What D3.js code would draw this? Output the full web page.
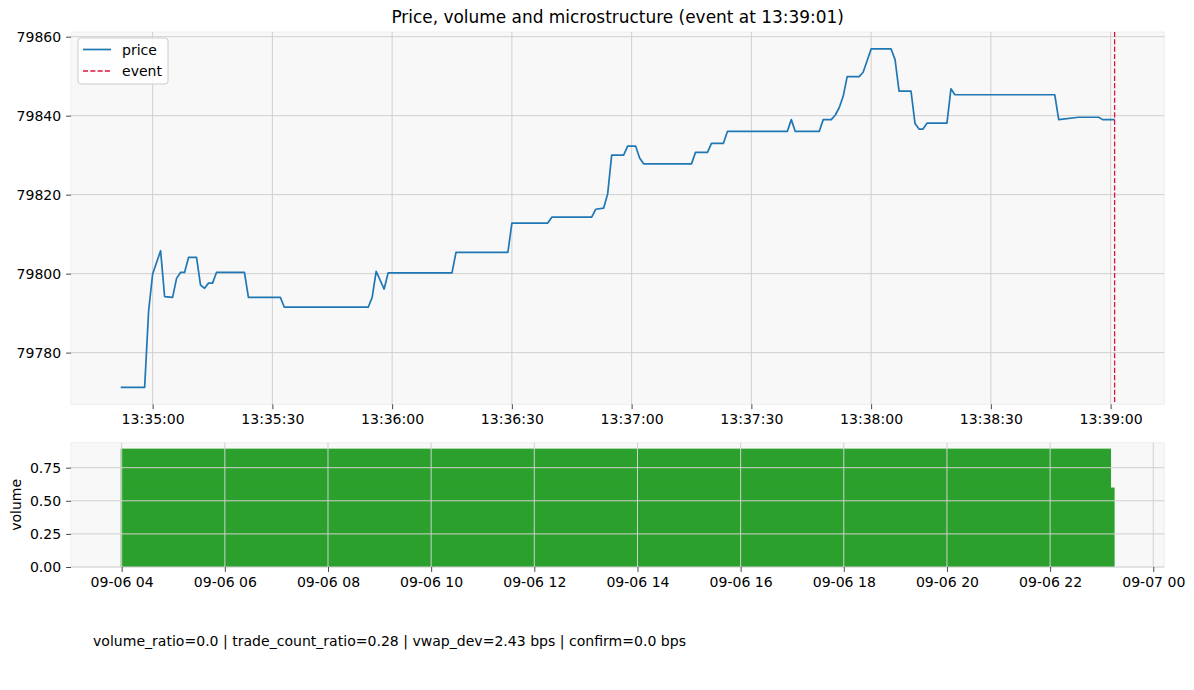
<!DOCTYPE html>
<html>
<head>
<meta charset="utf-8">
<script src="https://cdn.jsdelivr.net/npm/d3@7"></script>
<style>
  body { margin: 0; background: #fff; }
  text { font-family: "DejaVu Sans", sans-serif; fill: #000; }
</style>
</head>
<body>
<svg id="chart" width="1194" height="690"></svg>
<script>
// price samples (time of day, price)
const day = "2025-09-06";
const priceTimes = ["13:34:52","13:34:58","13:34:59","13:35:00","13:35:02","13:35:03","13:35:05","13:35:06","13:35:07","13:35:08",
  "13:35:09","13:35:11","13:35:12","13:35:13","13:35:14","13:35:15","13:35:16","13:35:23","13:35:24","13:35:32",
  "13:35:33","13:35:54","13:35:55","13:35:56","13:35:58","13:35:59","13:36:15","13:36:16","13:36:29","13:36:30",
  "13:36:39","13:36:40","13:36:50","13:36:51","13:36:53","13:36:54","13:36:55","13:36:58","13:36:59","13:37:01",
  "13:37:02","13:37:03","13:37:15","13:37:16","13:37:19","13:37:20","13:37:23","13:37:24","13:37:39","13:37:40",
  "13:37:41","13:37:47","13:37:48","13:37:50","13:37:51","13:37:52","13:37:53","13:37:54","13:37:57","13:37:58",
  "13:38:00","13:38:05","13:38:06","13:38:07","13:38:10","13:38:11","13:38:12","13:38:13","13:38:14","13:38:19",
  "13:38:20","13:38:21","13:38:46","13:38:47","13:38:52","13:38:57","13:38:58","13:39:01"];
const prices = [79771.2,79771.2,79790.6,79799.9,79805.8,79794.2,79794.0,79798.8,79800.3,79800.3,
  79804.1,79804.1,79797.1,79796.3,79797.6,79797.6,79800.3,79800.3,79794.0,79794.0,
  79791.5,79791.5,79794.0,79800.6,79796.1,79800.2,79800.2,79805.4,79805.4,79812.8,
  79812.8,79814.3,79814.3,79816.3,79816.6,79820.2,79830.0,79830.0,79832.3,79832.3,
  79829.3,79827.8,79827.8,79830.7,79830.7,79833.0,79833.0,79836.0,79836.0,79839.0,
  79836.0,79836.0,79839.0,79839.0,79840.1,79842.0,79844.9,79849.9,79849.9,79851.0,
  79856.9,79856.9,79854.2,79846.2,79846.2,79838.0,79836.6,79836.6,79838.1,79838.1,
  79846.8,79845.3,79845.3,79839.0,79839.6,79839.6,79839.0,79839.0];
const eventTime = "13:39:01";

// volume bars (drawn with a 0.8 day width, so they all overlap)
const volTimes = ["13:34:52","13:39:01"];
const volumes = [0.894,0.6];
const barWidthDays = 0.8;

const priceTicks = [79780,79800,79820,79840,79860];
const volTicks = [0,0.25,0.5,0.75];
const footer = "volume_ratio=0.0 | trade_count_ratio=0.28 | vwap_dev=2.43 bps | confirm=0.0 bps";
const title = "Price, volume and microstructure (event at 13:39:01)";

const parse = d3.timeParse("%Y-%m-%d %H:%M:%S");
const price = priceTimes.map((t,i) => ({t: parse(day+" "+t), p: prices[i]}));
const vol = volTimes.map((t,i) => ({t: parse(day+" "+t), v: volumes[i]}));
const evt = parse(day+" "+eventTime);

const svg = d3.select("#chart");
const BG = "#f8f8f8", GRID = "#d0d0d0", FS = 14.05;

function pad(ext, f) { const r = ext[1]-ext[0]; return [ext[0]-r*f, ext[1]+r*f]; }

// ---------- top panel ----------
const pp = {l: 71, r: 1164.3, t: 32, b: 404.3};
const tExt = d3.extent(price, d => +d.t);
const x = d3.scaleTime().domain(pad(tExt,0.05).map(v => new Date(v))).range([pp.l, pp.r]);
const y = d3.scaleLinear().domain(pad(d3.extent(price, d => d.p),0.05)).range([pp.b, pp.t]);

svg.append("rect").attr("x",pp.l).attr("y",pp.t).attr("width",pp.r-pp.l).attr("height",pp.b-pp.t)
  .attr("fill",BG).attr("stroke","#ececec").attr("stroke-width",0.8);

const xTicks = x.ticks(d3.timeSecond.every(30));
svg.append("g").selectAll("line").data(xTicks).join("line")
  .attr("x1",d=>x(d)).attr("x2",d=>x(d)).attr("y1",pp.t).attr("y2",pp.b)
  .attr("stroke",GRID).attr("stroke-width",1);
svg.append("g").selectAll("line").data(priceTicks).join("line")
  .attr("x1",pp.l).attr("x2",pp.r).attr("y1",d=>y(d)).attr("y2",d=>y(d))
  .attr("stroke",GRID).attr("stroke-width",1);

const gx = svg.append("g").attr("transform",`translate(0,${pp.b})`)
  .call(d3.axisBottom(x).tickValues(xTicks).tickFormat(d3.timeFormat("%H:%M:%S")).tickSize(4.9).tickPadding(4.9));
const gy = svg.append("g").attr("transform",`translate(${pp.l},0)`)
  .call(d3.axisLeft(y).tickValues(priceTicks).tickFormat(d3.format("d")).tickSize(4.9).tickPadding(4.9));

svg.append("path").datum(price)
  .attr("fill","none").attr("stroke","#1f77b4").attr("stroke-width",1.7).attr("stroke-linejoin","round")
  .attr("d", d3.line().x(d=>x(d.t)).y(d=>y(d.p)));

svg.append("line").attr("x1",x(evt)).attr("x2",x(evt)).attr("y1",pp.t).attr("y2",pp.b)
  .attr("stroke","#dc143c").attr("stroke-width",1.3).attr("stroke-dasharray","5.1,2.2");

// legend
const lg = svg.append("g").attr("transform","translate(78,38)");
lg.append("rect").attr("width",90).attr("height",46).attr("rx",3)
  .attr("fill","#fff").attr("fill-opacity",0.8).attr("stroke","#cccccc").attr("stroke-width",1);
lg.append("line").attr("x1",5).attr("x2",33).attr("y1",11.5).attr("y2",11.5).attr("stroke","#1f77b4").attr("stroke-width",1.7);
lg.append("line").attr("x1",5).attr("x2",33).attr("y1",33).attr("y2",33).attr("stroke","#dc143c").attr("stroke-width",1.3).attr("stroke-dasharray","5.1,2.2");
lg.append("text").attr("x",44).attr("y",16.5).style("font-size",FS+"px").text("price");
lg.append("text").attr("x",44).attr("y",38).style("font-size",FS+"px").text("event");

svg.append("text").attr("x",(pp.l+pp.r)/2).attr("y",23).attr("text-anchor","middle")
  .style("font-size","16.95px").text(title);

// ---------- bottom panel ----------
const vp = {l: 71, r: 1164.3, t: 442.7, b: 567};
const halfW = barWidthDays*24*3600*1000/2;
const bExt = [d3.min(vol, d => +d.t) - halfW, d3.max(vol, d => +d.t) + halfW];
const x2 = d3.scaleTime().domain(pad(bExt,0.05).map(v => new Date(v))).range([vp.l, vp.r]);
const y2 = d3.scaleLinear().domain([0, d3.max(vol, d => d.v)*1.05]).range([vp.b, vp.t]);

svg.append("rect").attr("x",vp.l).attr("y",vp.t).attr("width",vp.r-vp.l).attr("height",vp.b-vp.t)
  .attr("fill",BG).attr("stroke","#ececec").attr("stroke-width",0.8);

svg.append("g").selectAll("rect").data(vol).join("rect")
  .attr("x",d=>x2(new Date(+d.t-halfW)))
  .attr("width",d=>x2(new Date(+d.t+halfW))-x2(new Date(+d.t-halfW)))
  .attr("y",d=>y2(d.v)).attr("height",d=>y2(0)-y2(d.v))
  .attr("fill","#2ca02c");

const x2Ticks = x2.ticks(d3.timeHour.every(2));
svg.append("g").selectAll("line").data(x2Ticks).join("line")
  .attr("x1",d=>x2(d)).attr("x2",d=>x2(d)).attr("y1",vp.t).attr("y2",vp.b)
  .attr("stroke",GRID).attr("stroke-width",1);
svg.append("g").selectAll("line").data(volTicks).join("line")
  .attr("x1",vp.l).attr("x2",vp.r).attr("y1",d=>y2(d)).attr("y2",d=>y2(d))
  .attr("stroke",GRID).attr("stroke-width",1);

const gx2 = svg.append("g").attr("transform",`translate(0,${vp.b})`)
  .call(d3.axisBottom(x2).tickValues(x2Ticks).tickFormat(d3.timeFormat("%m-%d %H")).tickSize(4.9).tickPadding(4.9));
const gy2 = svg.append("g").attr("transform",`translate(${vp.l},0)`)
  .call(d3.axisLeft(y2).tickValues(volTicks).tickFormat(d3.format(".2f")).tickSize(4.9).tickPadding(4.9));

svg.append("text").attr("transform",`translate(21,${(vp.t+vp.b)/2}) rotate(-90)`)
  .attr("text-anchor","middle").style("font-size",FS+"px").text("volume");

[gx,gy,gx2,gy2].forEach(g => {
  g.select(".domain").remove();
  g.selectAll(".tick line").attr("stroke","#333").attr("stroke-width",0.9);
  g.selectAll(".tick text").attr("fill","#000").style("font-size",FS+"px").style("font-family","DejaVu Sans");
});

svg.append("text").attr("x",93).attr("y",646).style("font-size",FS+"px").text(footer);
</script>
</body>
</html>
